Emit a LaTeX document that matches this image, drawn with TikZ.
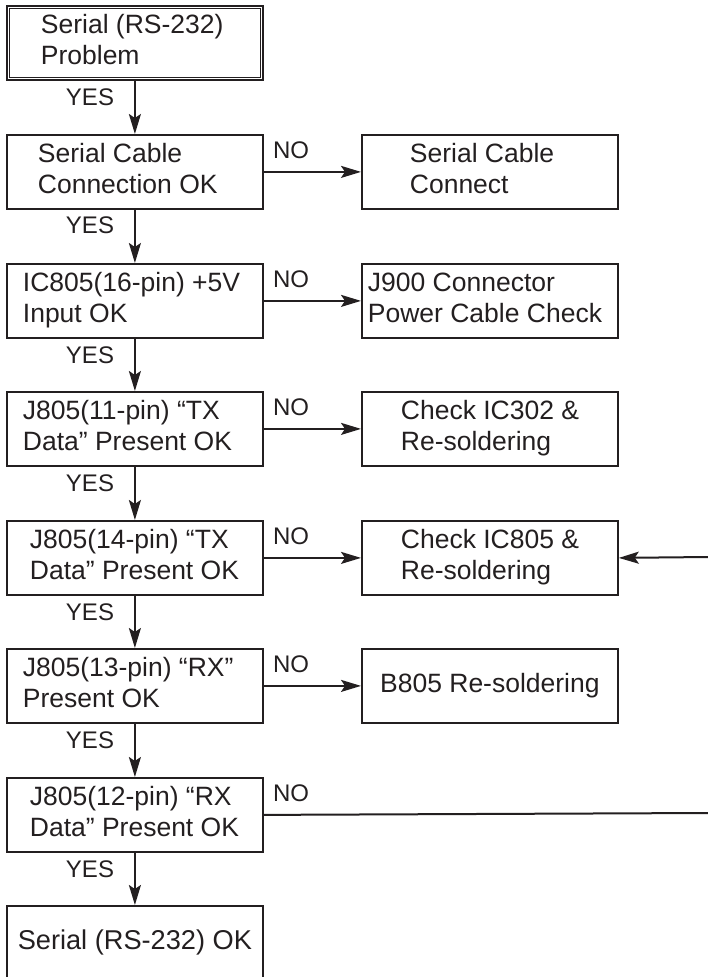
\documentclass[tikz,border=0pt]{standalone}
\usepackage{fontspec}
\setmainfont{Liberation Sans}
\usetikzlibrary{arrows.meta}
\definecolor{ink}{HTML}{231F20}
\newcommand\boxtxt[2]{\makebox[128pt][l]{\hspace*{#1}\begin{tabular}{@{}l@{}}#2\end{tabular}}}
\begin{document}
\begin{tikzpicture}[x=0.5pt,y=-0.5pt,
  box/.style={draw=ink, line width=0.9pt, minimum width=128pt, minimum height=37pt,
    inner sep=0pt, anchor=north west, font=\fontsize{13.25}{15.5}\selectfont, text=ink},
  lbl/.style={font=\fontsize{12}{14}\selectfont, text=ink, inner sep=0pt},
  conn/.style={draw=ink, line width=1pt, -{Stealth[length=10pt,width=6pt,inset=2pt]}},
  plain/.style={draw=ink, line width=1pt}]
\useasboundingbox (0,0) rectangle (707,977);

% left column
\node[box] (b1) at (6,5)   {\boxtxt{17pt}{Serial (RS-232)\\Problem}};
\draw[ink, line width=0.6pt] ([shift={(3.5,3.5)}]b1.north west) rectangle ([shift={(-3.5,-3.5)}]b1.south east);
\node[box] (b2) at (6,134) {\boxtxt{15.5pt}{Serial Cable\\Connection OK}};
\node[box] (b3) at (6,263) {\boxtxt{8pt}{IC805(16-pin) +5V\\Input OK}};
\node[box] (b4) at (6,391) {\boxtxt{8pt}{J805(11-pin) “TX\\Data” Present OK}};
\node[box] (b5) at (6,520) {\boxtxt{11.5pt}{J805(14-pin) “TX\\Data” Present OK}};
\node[box] (b6) at (6,648) {\boxtxt{8pt}{J805(13-pin) “RX”\\Present OK}};
\node[box] (b7) at (6,777) {\boxtxt{11.5pt}{J805(12-pin) “RX\\Data” Present OK}};
\node[box, font=\fontsize{13.6}{16}\selectfont] (b8) at (6,905) {Serial (RS-232) OK};

% right column
\node[box] (r2) at (361,134) {\boxtxt{24pt}{Serial Cable\\Connect}};
\node[box] (r3) at (361,263) {\boxtxt{3pt}{J900 Connector\\Power Cable Check}};
\node[box] (r4) at (361,391) {\boxtxt{19.5pt}{Check IC302 \&\\Re-soldering}};
\node[box] (r5) at (361,520) {\boxtxt{19.5pt}{Check IC805 \&\\Re-soldering}};
\node[box] (r6) at (361,648) {B805 Re-soldering};

\coordinate (e5) at (708,557);
\coordinate (e7) at (708,813);

% YES arrows
\draw[conn] (b1) -- (b2);
\draw[conn] (b2) -- (b3);
\draw[conn] (b3) -- (b4);
\draw[conn] (b4) -- (b5);
\draw[conn] (b5) -- (b6);
\draw[conn] (b6) -- (b7);
\draw[conn] (b7) -- (b8);

% NO arrows
\draw[conn] (b2) -- (r2);
\draw[conn] (b3) -- (r3);
\draw[conn] (b4) -- (r4);
\draw[conn] (b5) -- (r5);
\draw[conn] (b6) -- (r6);
\draw[plain] (b7.east) -- (e7);
\draw[conn] (e5) -- (r5.east);

% labels
\node[lbl] (y1) at (90,97)  {YES};
\node[lbl] (y2) at (90,225) {YES};
\node[lbl] (y3) at (90,355) {YES};
\node[lbl] (y4) at (90,483) {YES};
\node[lbl] (y5) at (90,612) {YES};
\node[lbl] (y6) at (90,740) {YES};
\node[lbl] (y7) at (90,869) {YES};

\node[lbl] (n2) at (291,150) {NO};
\node[lbl] (n3) at (291,279) {NO};
\node[lbl] (n4) at (291,407) {NO};
\node[lbl] (n5) at (291,536) {NO};
\node[lbl] (n6) at (291,664) {NO};
\node[lbl] (n7) at (291,793) {NO};
\end{tikzpicture}
\end{document}
